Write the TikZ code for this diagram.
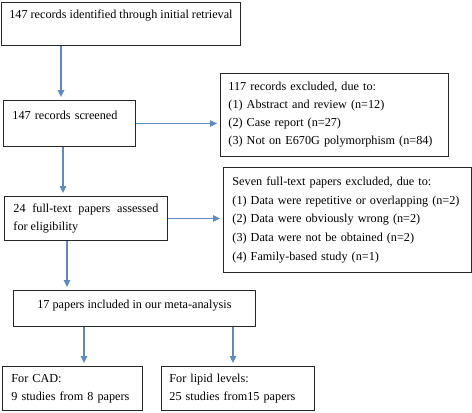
\documentclass[tikz,border=0pt]{standalone}
\usepackage{fontspec}
\setmainfont{Liberation Serif}
\usetikzlibrary{arrows.meta}

\definecolor{arrowblue}{RGB}{96,138,190}

\tikzset{
  box/.style={draw=black!85, line width=0.9pt, anchor=north west, inner ysep=0pt,
    font=\fontsize{12.2}{18}\selectfont},
  arr/.style={draw=arrowblue, line width=1.3pt, -{Triangle[length=7pt,width=6.5pt]},
    shorten >=3pt}
}

\begin{document}
\begin{tikzpicture}[x=1pt,y=-1pt]
\useasboundingbox (0,0) rectangle (472,413);

\node[box, minimum width=239pt, text height=16.5pt, text depth=26.5pt] (retrieved) at (1,2) {147 records identified through initial retrieval};
\node[box, text width=114pt, inner xsep=9pt, align=left, text height=19.3pt, text depth=26.7pt] (screened) at (3,100) {147 records screened};
\node[box, text width=212pt, inner xsep=8pt, align=left, minimum height=83pt] (excluded) at (220,73) {117 records excluded, due to:\\(1) Abstract and review (n=12)\\(2) Case report (n=27)\\(3) Not on E670G polymorphism (n=84)};

\node[box, text width=145pt, inner xsep=9pt, align=justify, minimum height=44pt] (fulltext) at (4,196) {24 full-text papers assessed\linebreak for eligibility};
\node[box, text width=230pt, inner xsep=9pt, align=left, minimum height=105pt,
  font=\fontsize{12.2}{18.75}\selectfont] (removed) at (223,167) {Seven full-text papers excluded, due to:\\(1) Data were repetitive or overlapping (n=2)\\(2) Data were obviously wrong (n=2)\\(3) Data were not be obtained (n=2)\\(4) Family-based study (n=1)};

\node[box, minimum width=242pt, text height=18.3pt, text depth=17.7pt] (included) at (13,290) {17 papers included in our meta-analysis};

\node[box, text width=122pt, inner xsep=9pt, align=left, minimum height=44pt] (cad) at (2,366) {For CAD:\\9 studies from 8 papers};
\node[box, text width=137pt, inner xsep=8pt, align=left, minimum height=44pt] (lipid) at (161,366) {For lipid levels:\\25 studies from15 papers};

% arrows
\draw[arr] ([xshift=60pt]retrieved.south west) -- ([xshift=58pt]screened.north west);
\draw[arr] (screened.east) -- (screened.east -| excluded.west);
\draw[arr] ([xshift=60pt]screened.south west) -- ([xshift=59pt]fulltext.north west);
\draw[arr] (fulltext.east) -- (fulltext.east -| removed.west);
\draw[arr] ([xshift=63pt]fulltext.south west) -- ([xshift=54pt]included.north west);
\draw[arr] ([xshift=71pt]included.south west) -- ([xshift=82pt]cad.north west);
\draw[arr] ([xshift=220pt]included.south west) -- ([xshift=72pt]lipid.north west);

\end{tikzpicture}
\end{document}
